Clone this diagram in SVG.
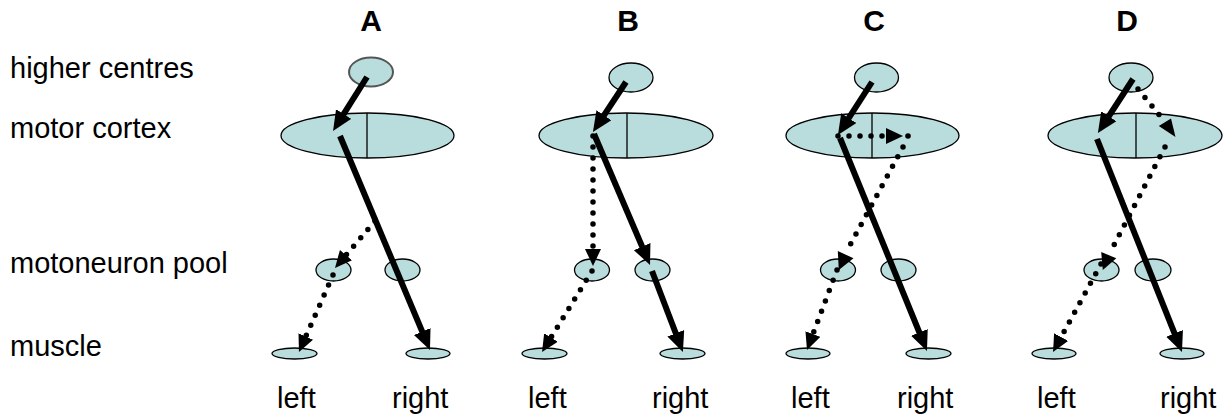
<svg xmlns="http://www.w3.org/2000/svg" width="1225" height="417" viewBox="0 0 1225 417">
<style>
.lbl{font-family:"Liberation Sans",Arial,sans-serif;font-size:29px;fill:#000}
.ttl{font-family:"Liberation Sans",Arial,sans-serif;font-size:30px;font-weight:bold;fill:#000;text-anchor:middle}
.el{fill:#b9dcdc;stroke:#000;stroke-width:1.3}
.div{stroke:#000;stroke-width:1.3}
.sol{stroke:#000;stroke-width:6;fill:none;marker-end:url(#ah)}
.dot{stroke:#000;stroke-width:5.5;fill:none;stroke-linecap:round;stroke-dasharray:0 11}
.dota{marker-end:url(#ad)}
.tri{fill:#000}
</style>
<defs>
<marker id="ah" markerUnits="userSpaceOnUse" markerWidth="22" markerHeight="20" refX="9" refY="9" orient="auto">
<path d="M0,0 L20,9 L0,18 z" fill="#000"/>
</marker>
<marker id="ad" markerUnits="userSpaceOnUse" markerWidth="20" markerHeight="18" refX="7" refY="8" orient="auto">
<path d="M0,0 L17,8 L0,16 z" fill="#000"/>
</marker>
</defs>

<g id="row-labels">
<text class="lbl" x="10" y="78">higher centres</text>
<text class="lbl" x="10" y="138">motor cortex</text>
<text class="lbl" x="10" y="273">motoneuron pool</text>
<text class="lbl" x="10" y="356">muscle</text>
</g>

<g id="titles">
<text class="ttl" x="371" y="31">A</text>
<text class="ttl" x="628" y="31">B</text>
<text class="ttl" x="874" y="31">C</text>
<text class="ttl" x="1127" y="31">D</text>
</g>

<!-- Panel A -->
<g id="A-higher"><ellipse cx="371" cy="72" rx="22" ry="14.5" fill="#b9dcdc" stroke="#555" stroke-width="2"/></g>
<g id="A-cortex"><ellipse class="el" cx="367.5" cy="135.5" rx="86.5" ry="22.5"/><line class="div" x1="367" y1="113" x2="367" y2="158"/></g>
<g id="A-mn-left"><ellipse class="el" cx="333.5" cy="270" rx="17.5" ry="11"/></g>
<g id="A-mn-right"><ellipse class="el" cx="402.5" cy="270" rx="17.5" ry="11"/></g>
<g id="A-mus-left"><ellipse class="el" cx="294.5" cy="353.5" rx="22.5" ry="5.5"/></g>
<g id="A-mus-right"><ellipse class="el" cx="428" cy="353.5" rx="22" ry="5.5"/></g>
<g id="A-left-label"><text class="lbl" x="277" y="408">left</text></g>
<g id="A-right-label"><text class="lbl" x="392" y="408">right</text></g>

<!-- Panel B -->
<g id="B-higher"><ellipse class="el" cx="631" cy="77.5" rx="22" ry="14.5"/></g>
<g id="B-cortex"><ellipse class="el" cx="626" cy="135.5" rx="87" ry="22.5"/><line class="div" x1="627" y1="113" x2="627" y2="158"/></g>
<g id="B-mn-left"><ellipse class="el" cx="592" cy="270" rx="17.5" ry="11"/></g>
<g id="B-mn-right"><ellipse class="el" cx="652.5" cy="270" rx="17.5" ry="11"/></g>
<g id="B-mus-left"><ellipse class="el" cx="544.5" cy="353.5" rx="22.5" ry="5.5"/></g>
<g id="B-mus-right"><ellipse class="el" cx="682.5" cy="353.5" rx="22.5" ry="5.5"/></g>
<g id="B-left-label"><text class="lbl" x="528" y="408">left</text></g>
<g id="B-right-label"><text class="lbl" x="652" y="408">right</text></g>

<!-- Panel C -->
<g id="C-higher"><ellipse class="el" cx="876.5" cy="77.5" rx="22" ry="14.5"/></g>
<g id="C-cortex"><ellipse class="el" cx="872.5" cy="135.5" rx="86.5" ry="22.5"/><line class="div" x1="872" y1="113" x2="872" y2="158"/></g>
<g id="C-mn-left"><ellipse class="el" cx="838" cy="270" rx="17.5" ry="11"/></g>
<g id="C-mn-right"><ellipse class="el" cx="898.5" cy="270" rx="17.5" ry="11"/></g>
<g id="C-mus-left"><ellipse class="el" cx="808" cy="353.5" rx="22" ry="5.5"/></g>
<g id="C-mus-right"><ellipse class="el" cx="928.5" cy="353.5" rx="22.5" ry="5.5"/></g>
<g id="C-left-label"><text class="lbl" x="791" y="408">left</text></g>
<g id="C-right-label"><text class="lbl" x="897" y="408">right</text></g>

<!-- Panel D -->
<g id="D-higher"><ellipse class="el" cx="1131" cy="77.5" rx="22" ry="14.5"/></g>
<g id="D-cortex"><ellipse class="el" cx="1135" cy="135.5" rx="87" ry="22.5"/><line class="div" x1="1136" y1="113" x2="1136" y2="158"/></g>
<g id="D-mn-left"><ellipse class="el" cx="1101.5" cy="270" rx="17.5" ry="11"/></g>
<g id="D-mn-right"><ellipse class="el" cx="1153" cy="270" rx="18" ry="11"/></g>
<g id="D-mus-left"><ellipse class="el" cx="1054" cy="353.5" rx="22" ry="5.5"/></g>
<g id="D-mus-right"><ellipse class="el" cx="1182" cy="353.5" rx="22" ry="5.5"/></g>
<g id="D-left-label"><text class="lbl" x="1037" y="408">left</text></g>
<g id="D-right-label"><text class="lbl" x="1160" y="408">right</text></g>

<g id="connectors">
<!-- A -->
<line class="sol" x1="367" y1="77" x2="338.9" y2="121.7"/>
<line class="sol" x1="340" y1="136" x2="425.7" y2="339.9"/>
<line class="dot dota" x1="375" y1="221" x2="341.5" y2="260.4"/>
<line class="dot dota" x1="333" y1="275" x2="303" y2="342.9"/>
<!-- B -->
<line class="sol" x1="626" y1="82" x2="599" y2="122.8"/>
<line class="sol" x1="594" y1="134" x2="645.7" y2="254.9"/>
<line class="sol" x1="652" y1="271" x2="679" y2="341.7"/>
<line class="dot dota" x1="593" y1="136" x2="593" y2="256"/>
<line class="dot dota" x1="592" y1="271" x2="547.3" y2="343.5"/>
<!-- C -->
<line class="sol" x1="872" y1="82" x2="843.9" y2="125.7"/>
<line class="sol" x1="840" y1="138" x2="922.8" y2="340.8"/>
<line class="dot dota" x1="838" y1="136" x2="893" y2="136"/>
<circle cx="908" cy="136" r="2.8"/>
<line class="dot" x1="903" y1="147" x2="849" y2="247"/>
<polygon class="tri" points="837.8,251 853.5,258.3 838.8,270"/>
<line class="dot dota" x1="837" y1="270" x2="810.5" y2="340.6"/>
<!-- D -->
<line class="sol" x1="1133" y1="79" x2="1103.9" y2="123.8"/>
<line class="sol" x1="1097" y1="139" x2="1177.9" y2="341.8"/>
<line class="dot" x1="1138" y1="89" x2="1161" y2="117"/>
<polygon class="tri" points="1171,118.5 1158.8,126 1175.5,137"/>
<line class="dot" x1="1165" y1="147" x2="1113" y2="247"/>
<polygon class="tri" points="1101.2,252 1116.3,258.3 1102.8,270"/>
<line class="dot dota" x1="1101" y1="264" x2="1057.8" y2="343.2"/>
</g>
</svg>
